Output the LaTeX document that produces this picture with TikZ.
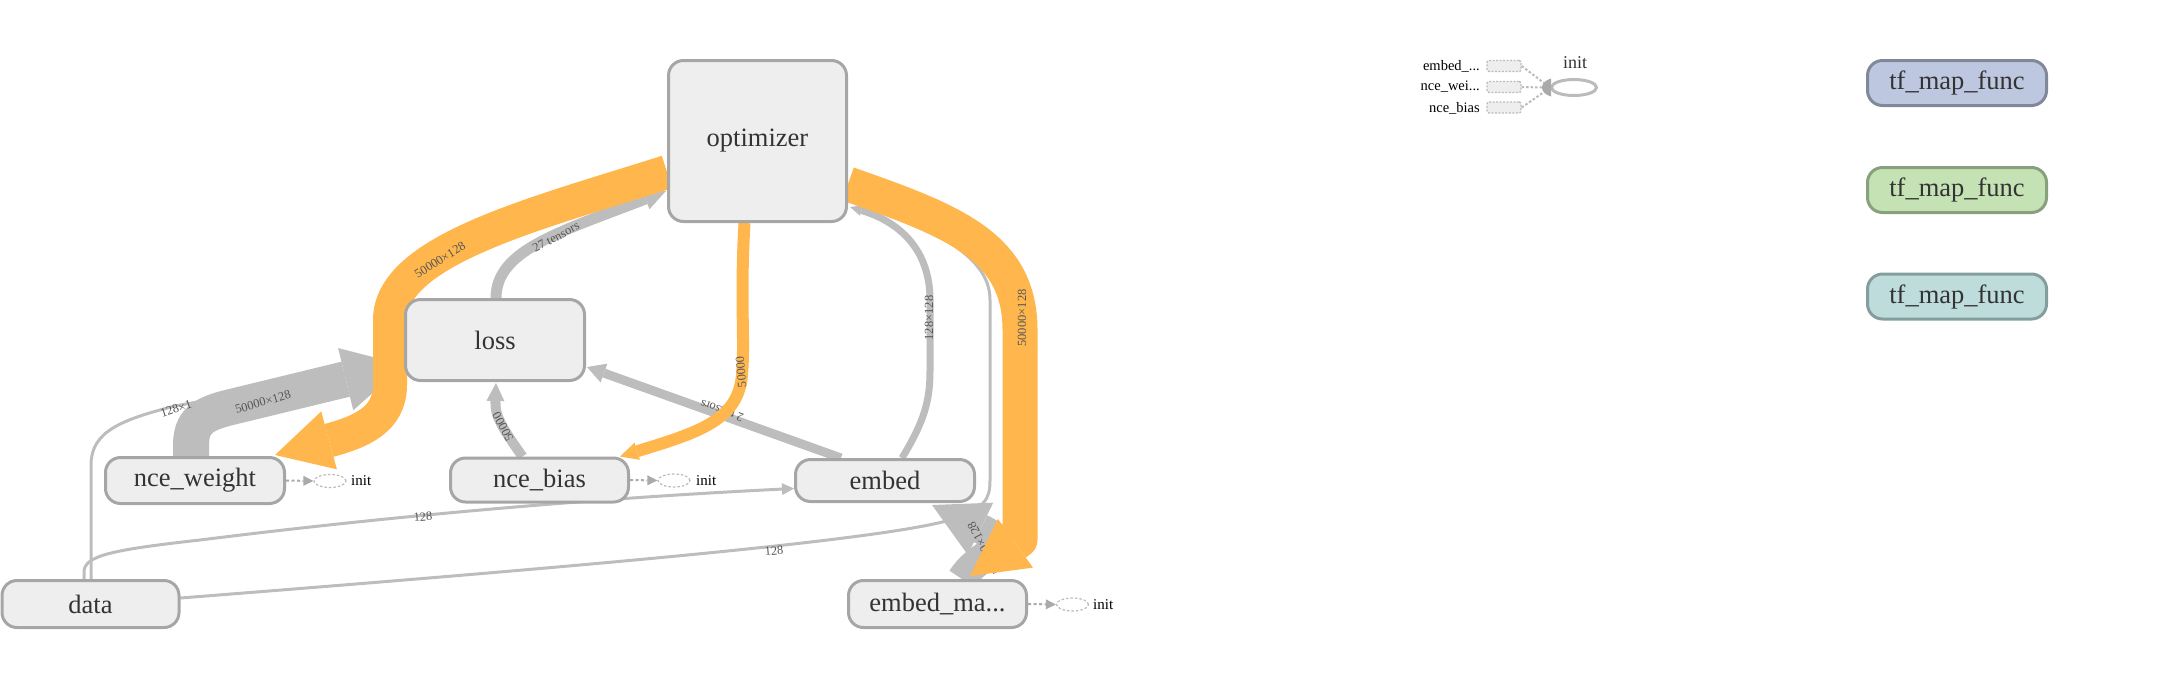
\documentclass[tikz,border=0pt]{standalone}
\usepackage{fontspec}
\setmainfont{Liberation Serif}
\usetikzlibrary{arrows.meta,calc,shapes.geometric}
\pgfdeclarelayer{edges}
\pgfsetlayers{edges,main}
\definecolor{nodefill}{HTML}{EEEEEE}
\definecolor{nodeline}{HTML}{A6A6A6}
\definecolor{edgegray}{HTML}{BDBDBD}
\definecolor{refor}{HTML}{FFB74D}
\definecolor{labelc}{HTML}{555555}
\definecolor{txt}{HTML}{333333}
\definecolor{dotgray}{HTML}{AAAAAA}
\definecolor{legline}{HTML}{BBBBBB}
\definecolor{tfblue}{HTML}{BDC7DF}
\definecolor{tfblueb}{HTML}{818899}
\definecolor{tfgreen}{HTML}{C5E2B5}
\definecolor{tfgreenb}{HTML}{88A07D}
\definecolor{tfteal}{HTML}{BEDCDC}
\definecolor{tftealb}{HTML}{849E9E}
\newcommand{\nodefnt}{\fontsize{26.5}{30}\selectfont}
\newcommand{\lblfnt}{\fontsize{12.5}{14}\selectfont}
\newcommand{\initfnt}{\fontsize{15}{17}\selectfont}
\newcommand{\legfnt}{\fontsize{14.5}{16}\selectfont}
\begin{document}
\begin{tikzpicture}[x=1pt,y=-1pt,
  box/.style={draw=nodeline,fill=nodefill,line width=3pt,rounded corners=15pt,inner sep=0pt,text=txt,font=\nodefnt},
  gedge/.style={draw=edgegray,line width=#1,line join=round},
  oedge/.style={draw=refor,line width=#1,line join=round},
  arr/.style 2 args={-{Triangle[length=#1,width=#2,line width=0pt]}},
  elabel/.style={font=\lblfnt,text=labelc,inner sep=0pt},
  initell/.style={ellipse,draw=legline,dash pattern=on 2.5pt off 2pt,line width=1.2pt,minimum width=32pt,minimum height=13pt,inner sep=0pt},
  initdot/.style={draw=dotgray,line width=2pt,dash pattern=on 3pt off 2.5pt,-{Triangle[length=10pt,width=10pt,line width=0pt]}},
  inittxt/.style={font=\initfnt,text=black,inner sep=0pt,anchor=west},
  legbox/.style={draw=legline,dash pattern=on 2pt off 1.5pt,line width=1.3pt,fill=nodefill,rounded corners=2pt,minimum width=34pt,minimum height=11pt,inner sep=0pt},
  legtxt/.style={font=\legfnt,text=black,inner sep=0pt,anchor=east},
  legdot/.style={draw=legline,line width=2pt,dash pattern=on 2.5pt off 2pt}
]
\useasboundingbox (0,0) rectangle (2167,694);

% ---------- nodes ----------
\node[box,minimum width=178pt,minimum height=161pt] (opt) at (757.5,141) {optimizer};
\node[box,minimum width=179pt,minimum height=81pt] (loss) at (495,340) {loss};
\node[box,minimum width=179pt,minimum height=46pt] (ncew) at (195,480.5) {nce\_weight};
\node[box,minimum width=178pt,minimum height=44pt] (nceb) at (539.5,480) {nce\_bias};
\node[box,minimum width=179pt,minimum height=42pt] (embed) at (885,480.5) {embed};
\node[box,minimum width=177pt,minimum height=47pt] (data) at (90.5,604) {data};
\node[box,minimum width=178pt,minimum height=47pt] (embm) at (937.5,604) {embed\_ma...};

\node[box,fill=tfblue,draw=tfblueb,minimum width=179pt,minimum height=45pt] (tf1) at (1957,83) {tf\_map\_func};
\node[box,fill=tfgreen,draw=tfgreenb,minimum width=179pt,minimum height=45pt] (tf2) at (1957,190) {tf\_map\_func};
\node[box,fill=tfteal,draw=tftealb,minimum width=179pt,minimum height=45pt] (tf3) at (1957,296.5) {tf\_map\_func};

% ---------- edges ----------
\begin{pgfonlayer}{edges}
% thin gray
\draw[gedge=3pt,arr={12pt}{12pt}] ($(data.north)+(0.5,0)$) -- (91,465) .. controls (91,432) and (120,420) .. (175,406) -- ($(loss.west)+(0,25)$);
\draw[gedge=3pt,arr={12pt}{12pt}] ($(data.north)+(-6.5,0)$) -- (84,572) .. controls (84,556) and (110,550) .. (200,540) .. controls (400,515) and (600,498) .. ($(embed.west)+(0,8)$);
\draw[gedge=3pt,arr={12pt}{12pt}] ($(data.east)+(0,-6)$) .. controls (600,565) and (880,540) .. (950,520) .. controls (985,508) and (990,500) .. (990,480) -- (990,300) .. controls (990,262) and (950,235) .. ($(opt.east)+(0,54)$);
% medium gray
\draw[gedge=9pt,arr={18pt}{20pt}] ($(embed.north west)+(47,0)$) -- ($(loss.east)+(1,27)$);
\draw[gedge=11pt,arr={22pt}{22pt}] ($(loss.north)+(1,0)$) .. controls (496,250) and (560,232) .. ($(opt.west)+(-1,50)$);
\draw[gedge=10pt,arr={18pt}{18pt}] ($(nceb.north)+(-17,0)$) .. controls (500,425) and (495,415) .. ($(loss.south)+(1,1)$);
\draw[gedge=7pt,arr={12pt}{11pt}] ($(embed.north)+(17,0)$) .. controls (925,420) and (930,400) .. (930,370) -- (930,300) .. controls (930,250) and (900,222) .. ($(opt.east)+(2,66)$);
% thick gray
\draw[gedge=36pt,arr={60pt}{64pt}] ($(ncew.north)+(-4,0)$) -- (191,445) .. controls (191,420) and (205,414) .. (227,408) -- ($(loss.west)+(0,25)$);
\draw[gedge=30pt,arr={54pt}{58pt}] ($(embm.north)+(24.5,0)$) .. controls (980,550) and (1020,548) .. ($(embed.south)+(47,2)$);
% gray labels
\node[elabel,rotate=18] (l1) at (176,409) {128×1};
\node[elabel,rotate=16] (l2) at (263,402) {50000×128};
\node[elabel,rotate=5] (l3) at (423,517) {128};
\node[elabel,rotate=5] (l4) at (774,551) {128};
\node[elabel,rotate=160] (l5) at (722,411) {2 tensors};
\node[elabel,rotate=28] (l6) at (556,237) {27 tensors};
\node[elabel,rotate=118] (l7) at (503,427) {50000};
\node[elabel,rotate=90] (l8) at (929,318) {128×128};
\node[elabel,rotate=118] (l9) at (984,548) {50000×128};
% orange ref edges
\draw[oedge=34pt,arr={56pt}{60pt}] ($(opt.west)+(0,31)$) .. controls (535,214) and (390,250) .. (390,320) -- (390,385) .. controls (390,420) and (360,432) .. ($(ncew.north east)+(-11,-1)$);
\draw[oedge=35pt,arr={56pt}{60pt}] ($(opt.east)+(0,43)$) .. controls (950,220) and (1020,245) .. (1020,330) -- (1020,540) -- ($(embm.north)+(32.5,-3)$);
\draw[oedge=12pt,arr={18pt}{18pt}] ($(opt.south)+(-13,0)$) .. controls (740,300) and (745,340) .. (742,375) .. controls (738,420) and (700,432) .. ($(nceb.north east)+(-10,0)$);
% orange labels
\node[elabel,rotate=32] (l10) at (440,260) {50000×128};
\node[elabel,rotate=90] (l11) at (1022,318) {50000×128};
\node[elabel,rotate=95] (l12) at (741,372) {50000};
\end{pgfonlayer}

% ---------- init satellites ----------
\node[initell] (ncewi) at (330,481) {};
\node[inittxt] (ncewt) at (351,481) {init};
\draw[initdot] (ncew.east) -- (ncewi.west);
\node[initell] (ncebi) at (674,480.5) {};
\node[inittxt] (ncebt) at (696,480.5) {init};
\draw[initdot] (nceb.east) -- (ncebi.west);
\node[initell] (embmi) at (1072.5,604.5) {};
\node[inittxt] (embmt) at (1093,604.5) {init};
\draw[initdot] (embm.east) -- (embmi.west);

% ---------- legend init ----------
\node[legbox] (lg1) at (1504,66) {};
\node[legbox] (lg2) at (1504,87) {};
\node[legbox] (lg3) at (1504,107.5) {};
\node[legtxt] (lt1) at (1480,66) {embed\_...};
\node[legtxt] (lt2) at (1480,87) {nce\_wei...};
\node[legtxt] (lt3) at (1480,108) {nce\_bias};
\node[ellipse,draw=legline,line width=3pt,minimum width=45pt,minimum height=16pt,inner sep=0pt] (lgi) at (1574,87.5) {};
\node[font=\fontsize{18}{20}\selectfont,text=txt,inner sep=0pt] (lgit) at (1575,63) {init};
\coordinate (lgm1) at (1544,83);
\coordinate (lgm2) at (1543,87.5);
\coordinate (lgm3) at (1544,92);
\draw[legdot] (lg1.east) -- (lgm1);
\draw[legdot] (lg2.east) -- (lgm2);
\draw[legdot] (lg3.east) -- (lgm3);
\fill[dotgray] (1551,78.5) .. controls (1539,82) and (1539,93) .. (1551,96.5) -- cycle;
\end{tikzpicture}
\end{document}
